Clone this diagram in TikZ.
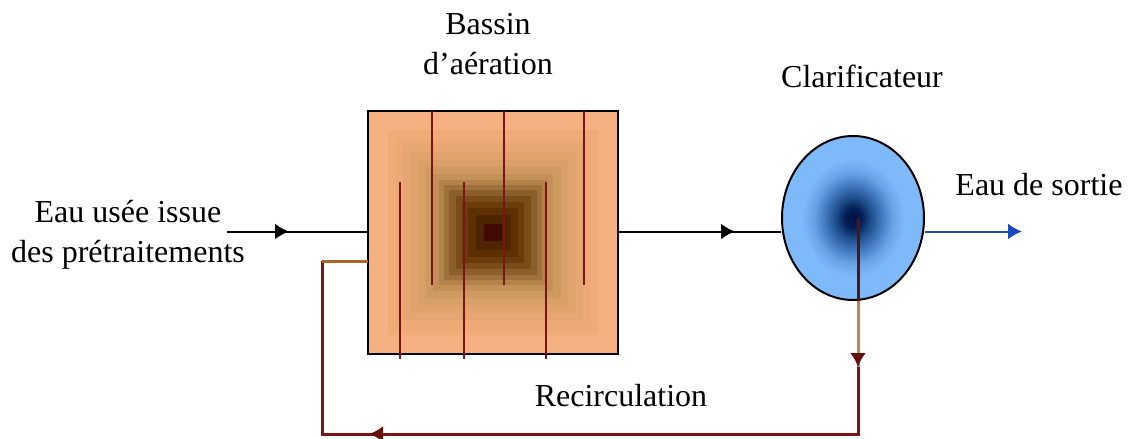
\documentclass[tikz,border=0pt]{standalone}
\usepackage{fontspec}
\setmainfont{Liberation Serif}
\usetikzlibrary{arrows.meta,positioning,calc,shapes.geometric}
\definecolor{recirc}{RGB}{125,20,20}
\definecolor{recircpointe}{RGB}{100,16,10}
\definecolor{recircclair}{RGB}{190,135,85}
\definecolor{recircsombre}{RGB}{85,20,15}
\definecolor{departbrun}{RGB}{175,100,35}
\definecolor{sortiebleu}{RGB}{25,75,190}
\definecolor{bassinfond}{HTML}{F6B183}
\definecolor{clarifa}{RGB}{0,16,64}
\definecolor{clarifb}{RGB}{4,30,85}
\definecolor{clarifc}{RGB}{28,75,135}
\definecolor{clarifd}{RGB}{65,120,190}
\definecolor{clarife}{RGB}{105,165,230}
\definecolor{clariff}{RGB}{126,186,250}
\pgfdeclareradialshading{clarifshade}{\pgfpoint{0bp}{0bp}}{%
  color(0bp)=(clarifa);
  color(3bp)=(clarifb);
  color(6bp)=(clarifc);
  color(10bp)=(clarifd);
  color(14bp)=(clarife);
  color(18bp)=(clariff);
  color(50bp)=(clariff)}
\tikzset{
  etiquette/.style={align=center,font=\fontsize{16}{20}\selectfont,inner sep=0pt},
  chicane/.style={recirc,line width=1.3pt},
  flux/.style={line width=1pt},
  boucle/.style={line width=1.5pt},
  pointe/.style={-{Latex[length=7pt,width=8pt]}},
  pointerc/.style={-{Latex[length=7pt,width=8pt,color=recircpointe]}}
}
\begin{document}
\begin{tikzpicture}[x=0.5pt,y=-0.5pt,>=Latex]
  \useasboundingbox (0,0) rectangle (1132,439);
  % bassin and its stepped gradient
  \node[fill=bassinfond,minimum width=125pt,minimum height=121.5pt,inner sep=0pt] (bassin) at (493,232.5) {};
  \foreach \f/\c in {.84/EFAB78,.78/ECA976,.72/E6A671,.66/E0A36C,.60/D8A068,.54/CF9A60,.48/C39057,.43/B3824A,.39/9F713A,.35/8B5F2B,.30/7A4C18,.25/6A3C0A,.20/5E3000,.14/4F2400,.07/3F0A00} {
    \definecolor{bande}{HTML}{\c}
    \fill[bande] ($(bassin.center)+(-\f*125,-\f*121.5)$) rectangle ($(bassin.center)+(\f*125,\f*121.5)$);
  }
  \draw[flux] (bassin.south west) rectangle (bassin.north east);
  \foreach \x in {432,504,584} \draw[chicane] (\x,111) -- (\x,285);
  \foreach \x in {400,464,546} \draw[chicane] (\x,182) -- (\x,359);

  \node[draw,ellipse,shading=clarifshade,line width=1pt,minimum width=71pt,minimum height=82pt,inner sep=0pt] (clarif) at (853,218) {};

  \node[etiquette] (entree) at (128,235) {Eau usée issue\\des prétraitements};
  \node[etiquette] (bassintxt) at (488,44) {Bassin\\d’aération};
  \node[etiquette] (clariftxt) at (862,76) {Clarificateur};
  \node[etiquette] (sortietxt) at (1039,185) {Eau de sortie};
  \node[etiquette] (recirctxt) at (621,396) {Recirculation};

  \coordinate (depart) at (227,231.5);
  \coordinate (tipa) at (289,231.5);
  \coordinate (tipb) at (735,231.5);
  \coordinate (sortie) at (1022,231.5);
  \coordinate (piquage) at (858,218);
  \coordinate (tipc) at (858,367);
  \coordinate (retour) at (858,434);
  \coordinate (tipd) at (369,434);
  \coordinate (coin) at (322,434);
  \coordinate (coinhaut) at (322,261);

  \draw[flux] (depart) -- (depart -| bassin.west);
  \draw[flux,pointe] (depart) -- (tipa);
  \draw[flux] (tipb -| bassin.east) -- (tipb -| clarif.west);
  \draw[flux,pointe] (tipb -| bassin.east) -- (tipb);
  \draw[flux,sortiebleu,pointe] (sortie -| clarif.east) -- (sortie);
  % recirculation loop
  \draw[boucle,recirc] (tipc) -- (retour) -- (coin) -- (coinhaut);
  \draw[boucle,recirc,pointerc] (retour) -- (tipd);
  \draw[boucle,recircsombre] (piquage) -- (piquage |- clarif.south);
  \draw[boucle,recircclair] (piquage |- clarif.south) -- (tipc);
  \draw[boucle,recirc,pointerc] ($(tipc)+(0,-14)$) -- (tipc);
  \draw[boucle,departbrun] (coinhaut) -- (coinhaut -| bassin.west);
\end{tikzpicture}
\end{document}
